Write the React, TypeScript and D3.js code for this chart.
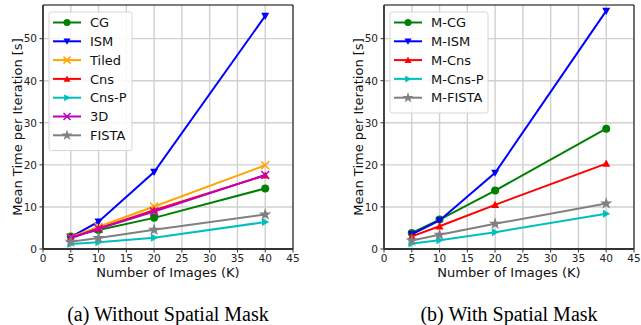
import React from "react";
import * as d3 from "d3";

// Number of images on the x axis
const imageCounts = [5, 10, 20, 40];

// Mean time per iteration [s], without spatial mask
const cgTimes = [3.0, 4.5, 7.4, 14.4];
const ismTimes = [2.8, 6.5, 18.3, 55.4];
const tiledTimes = [2.8, 5.3, 10.1, 19.9];
const cnsTimes = [2.6, 4.9, 9.2, 17.5];
const cnsPTimes = [1.2, 1.6, 2.7, 6.4];
const threeDTimes = [2.6, 4.8, 8.9, 17.6];
const fistaTimes = [1.7, 2.6, 4.6, 8.2];

// Mean time per iteration [s], with spatial mask
const mCgTimes = [3.8, 7.0, 13.9, 28.6];
const mIsmTimes = [3.5, 6.8, 18.1, 56.6];
const mCnsTimes = [3.0, 5.4, 10.5, 20.3];
const mCnsPTimes = [1.3, 2.1, 4.0, 8.4];
const mFistaTimes = [2.0, 3.4, 6.0, 10.8];

const xTicks = [0, 5, 10, 15, 20, 25, 30, 35, 40, 45];
const yTicks = [0, 10, 20, 30, 40, 50];

type Marker = "o" | "v" | "^" | ">" | "x" | "*";
type Series = { name: string; color: string; marker: Marker; values: number[] };

const leftSeries: Series[] = [
  { name: "CG", color: "#008000", marker: "o", values: cgTimes },
  { name: "ISM", color: "#0000ff", marker: "v", values: ismTimes },
  { name: "Tiled", color: "#ffa500", marker: "x", values: tiledTimes },
  { name: "Cns", color: "#ff0000", marker: "^", values: cnsTimes },
  { name: "Cns-P", color: "#00bfbf", marker: ">", values: cnsPTimes },
  { name: "3D", color: "#bf00bf", marker: "x", values: threeDTimes },
  { name: "FISTA", color: "#808080", marker: "*", values: fistaTimes },
];

const rightSeries: Series[] = [
  { name: "M-CG", color: "#008000", marker: "o", values: mCgTimes },
  { name: "M-ISM", color: "#0000ff", marker: "v", values: mIsmTimes },
  { name: "M-Cns", color: "#ff0000", marker: "^", values: mCnsTimes },
  { name: "M-Cns-P", color: "#00bfbf", marker: ">", values: mCnsPTimes },
  { name: "M-FISTA", color: "#808080", marker: "*", values: mFistaTimes },
];

const FONT = "DejaVu Sans, sans-serif";

function MarkerShape({ kind, x, y, color, s = 4 }: { kind: Marker; x: number; y: number; color: string; s?: number }) {
  switch (kind) {
    case "o":
      return <circle cx={x} cy={y} r={s} fill={color} />;
    case "v":
      return <path d={`M${x - s},${y - s * 0.8}L${x + s},${y - s * 0.8}L${x},${y + s}Z`} fill={color} />;
    case "^":
      return <path d={`M${x - s},${y + s * 0.8}L${x + s},${y + s * 0.8}L${x},${y - s}Z`} fill={color} />;
    case ">":
      return <path d={`M${x - s * 0.8},${y - s}L${x - s * 0.8},${y + s}L${x + s},${y}Z`} fill={color} />;
    case "x":
      return (
        <path
          d={`M${x - s},${y - s}L${x + s},${y + s}M${x - s},${y + s}L${x + s},${y - s}`}
          stroke={color}
          strokeWidth={1.5}
        />
      );
    case "*": {
      const star = d3.symbol().type(d3.symbolStar).size(s * s * 3)();
      return <path d={star ?? ""} transform={`translate(${x},${y})`} fill={color} />;
    }
  }
}

function Panel({
  left,
  series,
  legendX,
  legendW,
  caption,
}: {
  left: number;
  series: Series[];
  legendX: number;
  legendW: number;
  caption: string;
}) {
  const top = 5;
  const bottom = 249;
  const width = 250;
  const x = d3.scaleLinear().domain([0, 45]).range([left, left + width]);
  const y = d3.scaleLinear().domain([0, 58]).range([bottom, top]);
  const line = d3
    .line<number>()
    .x((_, i) => x(imageCounts[i]))
    .y((v) => y(v));

  const legendTop = 12;
  const rowH = 18.8;
  const legendH = series.length * rowH + 7;

  return (
    <g>
      <rect x={left} y={top} width={width} height={bottom - top} fill="#fff" />
      {xTicks.map((t) => (
        <line key={`gx${t}`} x1={x(t)} x2={x(t)} y1={top} y2={bottom} stroke="#d0d0d0" strokeWidth={1.4} />
      ))}
      {yTicks.map((t) => (
        <line key={`gy${t}`} x1={left} x2={left + width} y1={y(t)} y2={y(t)} stroke="#d0d0d0" strokeWidth={1.4} />
      ))}
      {series.map((s) => (
        <g key={s.name}>
          <path d={line(s.values) ?? ""} fill="none" stroke={s.color} strokeWidth={2} />
          {s.values.map((v, i) => (
            <MarkerShape key={i} kind={s.marker} x={x(imageCounts[i])} y={y(v)} color={s.color} s={4} />
          ))}
        </g>
      ))}
      {/* frame */}
      <line x1={left} x2={left + width} y1={top} y2={top} stroke="#000" strokeWidth={1} />
      <line x1={left + width} x2={left + width} y1={top} y2={bottom} stroke="#000" strokeWidth={1} />
      <line x1={left} x2={left} y1={top} y2={bottom} stroke="#333" strokeWidth={1.8} />
      <line x1={left} x2={left + width} y1={bottom} y2={bottom} stroke="#333" strokeWidth={1.8} />
      {xTicks.map((t) => (
        <g key={`tx${t}`}>
          <line x1={x(t)} x2={x(t)} y1={bottom} y2={bottom + 3.5} stroke="#333" strokeWidth={1} />
          <text x={x(t)} y={bottom + 13} textAnchor="middle" fontFamily={FONT} fontSize={10.5} fill="#222">
            {t}
          </text>
        </g>
      ))}
      {yTicks.map((t) => (
        <g key={`ty${t}`}>
          <line x1={left - 3.5} x2={left} y1={y(t)} y2={y(t)} stroke="#333" strokeWidth={1} />
          <text x={left - 6} y={y(t) + 3.8} textAnchor="end" fontFamily={FONT} fontSize={10.5} fill="#222">
            {t}
          </text>
        </g>
      ))}
      <text
        x={left + width / 2}
        y={277}
        textAnchor="middle"
        fontFamily={FONT}
        fontSize={13}
        fill="#111"
      >
        Number of Images (K)
      </text>
      <text
        transform={`translate(${left - 21},${(top + bottom) / 2}) rotate(-90)`}
        textAnchor="middle"
        fontFamily={FONT}
        fontSize={13}
        fill="#111"
      >
        Mean Time per Iteration [s]
      </text>
      {/* legend */}
      <rect
        x={legendX}
        y={legendTop}
        width={legendW}
        height={legendH}
        rx={2.5}
        fill="#fff"
        fillOpacity={0.85}
        stroke="#d6d6d6"
        strokeWidth={1}
      />
      {series.map((s, i) => {
        const cy = legendTop + 10.5 + i * rowH;
        return (
          <g key={`lg${s.name}`}>
            <line x1={legendX + 4} x2={legendX + 32} y1={cy} y2={cy} stroke={s.color} strokeWidth={2} />
            <MarkerShape kind={s.marker} x={legendX + 18} y={cy} color={s.color} s={3.5} />
            <text x={legendX + 41} y={cy + 4.6} fontFamily={FONT} fontSize={13} fill="#111">
              {s.name}
            </text>
          </g>
        );
      })}
      <text
        x={left + width / 2}
        y={321}
        textAnchor="middle"
        fontFamily="Liberation Serif, Times New Roman, serif"
        fontSize={20}
        fill="#000"
      >
        {caption}
      </text>
    </g>
  );
}

export default function App() {
  return (
    <svg width={641} height={325} style={{ position: "absolute", left: 0, top: 0, background: "#fff" }}>
      <rect width={641} height={325} fill="#fff" />
      <Panel left={43} series={leftSeries} legendX={49} legendW={83} caption="(a)  Without Spatial Mask" />
      <Panel left={384} series={rightSeries} legendX={390} legendW={98} caption="(b)  With Spatial Mask" />
    </svg>
  );
}
